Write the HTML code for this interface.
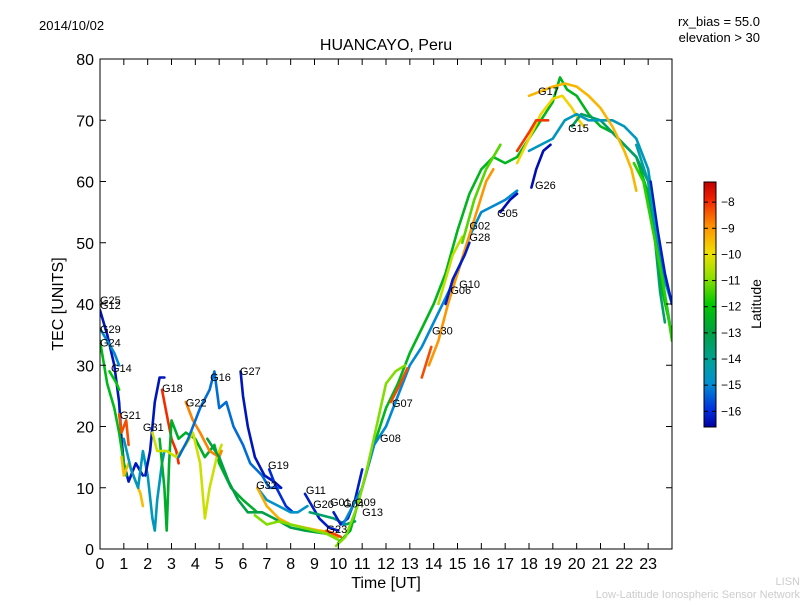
<!DOCTYPE html>
<html><head><meta charset="utf-8"><style>
body{margin:0;background:#fff;}
svg text{font-family:"Liberation Sans","DejaVu Sans",sans-serif;}
</style></head><body>
<svg id="c" width="800" height="600" xmlns="http://www.w3.org/2000/svg">
<defs><linearGradient id="cg" x1="0" y1="1" x2="0" y2="0">
<stop offset="0" stop-color="#0000a0"/><stop offset="0.07" stop-color="#0030e0"/>
<stop offset="0.18" stop-color="#0090d0"/><stop offset="0.26" stop-color="#00a0a0"/>
<stop offset="0.39" stop-color="#00a040"/><stop offset="0.5" stop-color="#00c800"/>
<stop offset="0.61" stop-color="#90e000"/><stop offset="0.71" stop-color="#f0e000"/>
<stop offset="0.82" stop-color="#ff9000"/><stop offset="0.93" stop-color="#f02000"/>
<stop offset="1" stop-color="#c00000"/></linearGradient>
<clipPath id="pc"><rect x="100" y="59" width="572" height="490"/></clipPath></defs>
<g id="marks" clip-path="url(#pc)"></g>
<g id="axes"></g>
</svg>
<script>
const xTicks=[0,1,2,3,4,5,6,7,8,9,10,11,12,13,14,15,16,17,18,19,20,21,22,23];
const yTicks=[0,10,20,30,40,50,60,70,80];
const cbTicks=[-8,-9,-10,-11,-12,-13,-14,-15,-16];
const seriesLat=[-16.3,-15,-12.3,-12,-8.3,-9.5,-14.6,-16.3,-8,-12.6,-10.3,-8.8,-15.3,-16.3,-13,-16,-14.8,-9.3,-11,-16.2,-13.5,-8.2,-16.2,-12.4,-15,-11,-9.8,-13.4,-14.6,-16.4,-16.4,-9.4,-9,-16.2,-8.3,-10.4,-11.3,-8.1,-16.2,-14.2,-11.6,-8.3];
const seriesPts=[
[[0,39],[0.3,35],[0.6,30],[0.8,24],[0.9,18],[1,14],[1.2,11],[1.5,14],[1.8,12]],
[[0,36],[0.3,34],[0.6,32],[0.8,30]],
[[0,34],[0.3,27],[0.6,23],[0.8,19],[1,14],[1.1,12]],
[[0.4,29],[0.7,27],[0.8,26]],
[[0.8,22],[0.9,19],[1,20],[1.1,21],[1.2,17]],
[[0.9,15],[1,12],[1.2,14],[1.4,12],[1.5,11],[1.7,9],[1.8,7]],
[[1.0,18],[1.3,13],[1.6,10],[1.8,16],[2,12],[2.2,5],[2.3,3],[2.4,8],[2.6,14],[2.7,16]],
[[1.9,12],[2.1,16],[2.3,24],[2.5,28],[2.7,28]],
[[2.6,26],[2.8,22],[3,18],[3.2,16],[3.3,14]],
[[2.5,18],[2.7,10],[2.8,3],[2.9,14],[3.0,21],[3.3,18],[3.6,19],[4,18],[4.4,15],[4.8,17],[5,14],[5.5,10],[6,8],[6.6,6]],
[[2.2,19],[2.4,16],[2.8,16],[3.2,15],[3.6,17],[3.9,19],[4.2,14],[4.4,5],[4.6,10],[4.9,15],[5.1,17]],
[[3.6,24],[3.9,21],[4.2,19],[4.6,16],[5,15],[5.1,16]],
[[3.3,15],[3.7,18],[4.2,23],[4.6,26],[4.8,29],[5,23],[5.3,24],[5.6,20],[6,17],[6.3,14],[6.8,12],[7.1,10],[7.6,10]],
[[5.9,29],[6,25],[6.2,20],[6.5,15],[6.9,12],[7.3,11],[7.6,10]],
[[4.5,18],[5,15],[5.4,11],[5.8,8],[6.2,6],[6.8,6],[7.3,5],[8,3.5],[8.6,3],[9.5,2.5],[10,2]],
[[7.1,13],[7.4,10],[7.8,7],[8.1,6]],
[[6.6,10],[7,8],[7.5,7],[8,6],[8.3,6],[8.7,7]],
[[6.6,10],[7,7],[7.5,5],[8,4],[8.6,3.5],[9.2,3],[9.6,2.8],[10,2]],
[[6.5,5.5],[7,4],[7.5,4.5],[8,4],[8.5,3.5],[9,3],[9.5,2.5],[10,1.5]],
[[8.6,9],[8.9,7],[9.2,5],[9.6,3.5],[10,3]],
[[8.8,6],[9.3,5.5],[9.8,5],[10.3,4],[10.7,4.5]],
[[9.5,3],[9.8,2.5],[10.1,2]],
[[9.8,6],[10.1,4],[10.4,5],[10.7,8],[11,13]],
[[10,1],[10.5,3],[11,10],[11.5,17],[12,23],[12.5,27],[13,32],[13.5,36],[14,40],[14.5,45],[15,52],[15.5,58],[16,62],[16.5,64],[17,63],[17.5,64],[18,67],[18.5,70],[19,73],[19.3,77],[19.6,75],[20,74],[20.5,71],[21,69],[21.5,68],[22,66],[22.5,64],[23,58],[23.3,50],[23.6,42],[24,35]],
[[10.2,4],[11,10],[11.5,17],[12,20],[12.5,25],[13,30],[13.5,33],[14,37],[14.5,41],[15,45],[15.5,51],[16,55],[16.5,56],[17,57],[17.5,58.5]],
[[9.9,0.5],[10.3,2],[10.8,7],[11.2,13],[11.6,20],[12,27],[12.4,29],[12.8,30]],
[[17.5,63],[18,67],[18.5,71],[19,73.5],[19.4,74],[19.8,72],[20.1,70],[20.3,69]],
[[19.8,69],[20.2,71],[20.6,70.5],[21,70],[21.5,68],[22,66],[22.5,64],[23,60],[23.3,50],[23.5,42],[23.7,37]],
[[18,65],[19,67],[19.5,70],[20,71],[20.5,70],[21,70],[21.5,70],[22,69],[22.5,67],[23,62],[23.3,54],[23.6,45],[24,40]],
[[18.1,59],[18.3,62],[18.6,65],[18.9,66]],
[[16.8,55],[17.2,57],[17.5,58]],
[[18,74],[19,75.5],[19.5,76],[20,75.5],[20.5,74],[21,72],[21.5,69],[22,65],[22.3,62],[22.5,58.5]],
[[13.8,30],[14.2,34],[14.6,40],[15,45],[15.4,50],[15.8,55],[16.2,60],[16.5,62]],
[[14.5,40],[14.8,44],[15.3,48],[15.5,50]],
[[13.5,28],[13.9,33]],
[[14.2,40],[14.8,48],[15.2,51]],
[[15.2,50],[15.7,57],[16.2,62],[16.8,66]],
[[17.5,65],[18,68],[18.3,70],[18.8,70]],
[[23.1,60],[23.4,52],[23.7,45],[24,40]],
[[22.5,66],[23,60],[23.3,52],[23.6,44],[23.9,37]],
[[22.4,63],[22.8,60],[23.2,52],[23.6,44],[24,34]],
[[12.2,24],[12.6,27],[12.9,29.5]]
];
const labelNames=["G25","G12","G29","G24","G14","G21","G31","G18","G22","G16","G27","G19","G32","G11","G20","G01","G04","G09","G13","G23","G08","G07","G30","G06","G10","G28","G02","G05","G26","G17","G15"];
const labelT=[0,0,0,0,0.46,0.84,1.8,2.6,3.6,4.62,5.87,7.05,6.55,8.64,8.94,9.65,10.2,10.7,11.0,9.5,11.75,12.25,13.93,14.7,15.07,15.5,15.5,16.66,18.25,18.38,19.64];
const labelV=[40,39.2,35.3,33.1,28.9,21.2,19.3,25.6,23.3,27.4,28.4,13.1,9.8,9.0,6.7,7.0,6.8,7.0,5.4,2.6,17.5,23.2,35,41.6,42.6,50.3,52.2,54.2,58.8,74.1,68.1];

const X0=100,X1=672,Y0=549,Y1=59;
const sx=t=>X0+t*(X1-X0)/24;
const sy=v=>Y0-v*(Y0-Y1)/80;
const CBT=182,CBB=427,LMAX=-7.23,LMIN=-16.6;
const cy=l=>CBB-(l-LMIN)*(CBB-CBT)/(LMAX-LMIN);
const stops=[[0,[0,0,160]],[0.07,[0,48,224]],[0.18,[0,144,208]],[0.26,[0,160,160]],[0.39,[0,160,64]],[0.5,[0,200,0]],[0.61,[144,224,0]],[0.71,[240,224,0]],[0.82,[255,144,0]],[0.93,[240,32,0]],[1,[192,0,0]]];
function cmap(l){let f=(l-LMIN)/(LMAX-LMIN);f=Math.max(0,Math.min(1,f));
for(let i=1;i<stops.length;i++){if(f<=stops[i][0]){const a=stops[i-1],b=stops[i],u=(f-a[0])/(b[0]-a[0]);
const c=a[1].map((v,k)=>Math.round(v+(b[1][k]-v)*u));return `rgb(${c.join(',')})`;}}return 'rgb(192,0,0)';}
const NS='http://www.w3.org/2000/svg';
function mk(tag,attrs,parent,txt){const e=document.createElementNS(NS,tag);for(const k in attrs)e.setAttribute(k,attrs[k]);if(txt!==undefined)e.textContent=txt;parent.appendChild(e);return e;}
const marks=document.getElementById('marks'),axes=document.getElementById('axes');
seriesPts.forEach((pts,i)=>{
const p=mk('polyline',{points:pts.map(q=>sx(q[0]).toFixed(1)+','+sy(q[1]).toFixed(1)).join(' '),fill:'none',stroke:cmap(seriesLat[i]),'stroke-width':2.6,'stroke-linejoin':'round','stroke-linecap':'round'},marks);


});
labelNames.forEach((n,i)=>{
const t=mk('text',{x:sx(labelT[i]),y:sy(labelV[i]),'font-size':11,fill:'#000'},marks,n);


});
const fr=mk('rect',{x:X0,y:Y1,width:X1-X0,height:Y0-Y1,fill:'none',stroke:'#000','stroke-width':1},axes);


xTicks.forEach(t=>{const x=sx(t);
mk('line',{x1:x,y1:Y0,x2:x,y2:Y0-6,stroke:'#000'},axes);mk('line',{x1:x,y1:Y1,x2:x,y2:Y1+6,stroke:'#000'},axes);
const tx=mk('text',{x:x,y:Y0+20,'font-size':16,'text-anchor':'middle'},axes,t);

});
yTicks.forEach(v=>{const y=sy(v);
mk('line',{x1:X0,y1:y,x2:X0+6,y2:y,stroke:'#000'},axes);mk('line',{x1:X1,y1:y,x2:X1-6,y2:y,stroke:'#000'},axes);
const tx=mk('text',{x:X0-6,y:y+6,'font-size':16,'text-anchor':'end'},axes,v);

});
const cb=mk('rect',{x:704,y:CBT,width:12,height:CBB-CBT,fill:'url(#cg)',stroke:'#000','stroke-width':1},axes);


cbTicks.forEach(l=>{const y=cy(l);
mk('line',{x1:704,y1:y,x2:708,y2:y,stroke:'#000'},axes);mk('line',{x1:716,y1:y,x2:712,y2:y,stroke:'#000'},axes);
const tx=mk('text',{x:721,y:y+4,'font-size':12},axes,'\u2212'+Math.abs(l));

});
</script>
<svg width="0" height="0" style="position:absolute"></svg>
<div style="position:absolute;left:0;top:0;width:800px;height:600px;pointer-events:none;font-family:'Liberation Sans',sans-serif;">
<div style="position:absolute;left:39px;top:18px;font-size:13px;">2014/10/02</div>
<div style="position:absolute;right:40px;top:14px;font-size:13px;text-align:right;line-height:16px;">rx_bias = 55.0<br>elevation &gt; 30</div>
<div style="position:absolute;left:286px;width:200px;top:37px;font-size:16px;text-align:center;">HUANCAYO, Peru</div>
<div style="position:absolute;left:286px;width:200px;top:575px;font-size:16px;text-align:center;">Time [UT]</div>
<div style="position:absolute;left:0px;width:120px;top:294px;font-size:16px;text-align:center;transform:translate(0,0) rotate(-90deg);transform-origin:60px 10px;">TEC [UNITS]</div>
<div style="position:absolute;left:716px;width:80px;top:296px;font-size:14px;text-align:center;transform:rotate(-90deg);transform-origin:40px 8px;">Latitude</div>
<div style="position:absolute;right:0px;top:576px;font-size:11px;color:#ccc;text-align:right;line-height:13px;">LISN<br>Low-Latitude Ionospheric Sensor Network</div>
</div>
</body></html>
